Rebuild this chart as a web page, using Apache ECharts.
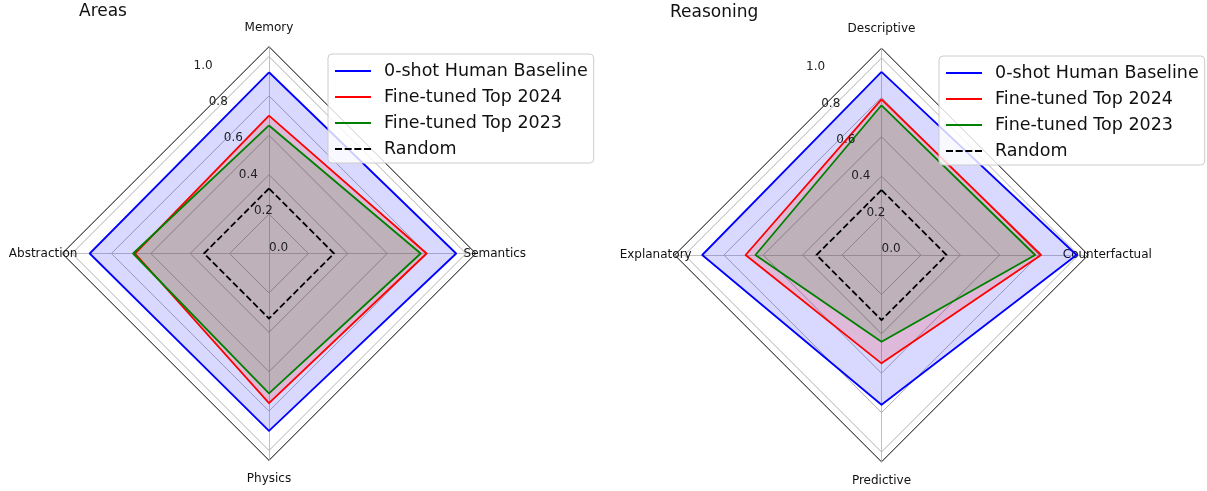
<!DOCTYPE html>
<html><head><meta charset="utf-8">
<script src="https://cdn.jsdelivr.net/npm/echarts@6/dist/echarts.min.js"></script>
<style>html,body{margin:0;padding:0;background:#fff}#c{width:1207px;height:491px}</style>
</head><body><div id="c"></div>
<script>
// ---- data ----
const areaAxes = ['Memory', 'Abstraction', 'Physics', 'Semantics'];
const reasonAxes = ['Descriptive', 'Explanatory', 'Predictive', 'Counterfactual'];
const seriesNames = ['0-shot Human Baseline', 'Fine-tuned Top 2024', 'Fine-tuned Top 2023', 'Random'];

const areaHuman  = [0.92, 0.91, 0.90, 0.95];
const area2024   = [0.70, 0.68, 0.76, 0.80];
const area2023   = [0.65, 0.69, 0.71, 0.77];
const areaRandom = [0.33, 0.33, 0.33, 0.33];

const reasonHuman  = [0.93, 0.91, 0.76, 0.99];
const reason2024   = [0.79, 0.69, 0.55, 0.81];
const reason2023   = [0.76, 0.64, 0.44, 0.78];
const reasonRandom = [0.33, 0.33, 0.33, 0.33];

const radialTicks = [0.0, 0.2, 0.4, 0.6, 0.8, 1.0];
const chartTitles = ['Areas', 'Reasoning'];

// ---- styling ----
const FONT = 'DejaVu Sans';
const rMax = 1.05;
const unit = 197;
const centers = [[269, 253.5], [881.5, 255]];
const colors = ['#0000ff', '#ff0000', '#008000', '#000000'];
const fills = ['rgba(0,0,255,0.15)', 'rgba(255,0,0,0.15)', 'rgba(0,128,0,0.15)', null];

// split rings every 0.05 -> show gray at 0.2 steps, black frame at rMax
const steps = 21;
const ringColors = [];
for (let i = 0; i <= steps; i++) {
  if (i === steps) ringColors.push('#000000');
  else if (i > 0 && i % 4 === 0) ringColors.push('#b0b0b0');
  else ringColors.push('rgba(0,0,0,0)');
}

function radar(idx, axes) {
  return {
    center: centers[idx], radius: unit * rMax, startAngle: 90, shape: 'polygon',
    splitNumber: steps,
    axisName: { color: '#111', fontSize: 12, fontFamily: FONT, align: 'center', verticalAlign: 'middle' },
    axisNameGap: 19,
    axisLine: { lineStyle: { color: '#b0b0b0', width: 0.8 } },
    splitLine: { lineStyle: { color: ringColors, width: 1 } },
    splitArea: { show: false },
    axisTick: { show: false }, axisLabel: { show: false },
    indicator: axes.map(n => ({ name: n, min: 0, max: rMax }))
  };
}

function radarSeries(idx, values) {
  return {
    type: 'radar', radarIndex: idx, symbol: 'none',
    data: values.map((v, k) => {
      const item = {
        name: seriesNames[k], value: v,
        itemStyle: { color: colors[k] },
        lineStyle: { color: colors[k], width: 1.8, type: k === 3 ? [6.5, 3] : 'solid' }
      };
      if (fills[k]) item.areaStyle = { color: fills[k], opacity: 1 };
      return item;
    })
  };
}

const solidIcon = 'path://M0,0h36v2h-36zM44,0h0.01v2h-0.01z';
const dashIcon = 'path://M0,0h7v2h-7zM9.67,0h7v2h-7zM19.33,0h7v2h-7zM29,0h7v2h-7zM44,0h0.01v2h-0.01z';
const legendData = seriesNames.map((n, k) => ({ name: n, icon: k === 3 ? dashIcon : solidIcon }));

function legend(left, top) {
  return {
    data: legendData, left: left, top: top, orient: 'vertical',
    itemWidth: 44, itemHeight: 2, itemGap: 6, padding: [7, 6, 4, 7],
    backgroundColor: 'rgba(255,255,255,0.8)', borderColor: '#cccccc', borderWidth: 1, borderRadius: 4,
    textStyle: { fontSize: 17.5, color: '#111', lineHeight: 20, fontFamily: FONT },
    itemStyle: { borderWidth: 0 }, selectedMode: false, z: 20
  };
}

function radiusAxis(idx) {
  return {
    polarIndex: idx, type: 'value',
    min: radialTicks[0], max: radialTicks[radialTicks.length - 1],
    interval: radialTicks[1] - radialTicks[0],
    axisLine: { show: false }, axisTick: { show: false }, splitLine: { show: false },
    axisLabel: {
      margin: 0, align: 'left', verticalAlign: 'bottom', fontSize: 12, color: '#222', fontFamily: FONT,
      formatter: v => radialTicks[Math.round(v / (radialTicks[1] - radialTicks[0]))].toFixed(1)
    },
    z: 10
  };
}

const option = {
  animation: false,
  textStyle: { fontFamily: FONT },
  title: chartTitles.map((t, i) => ({
    text: t, left: i === 0 ? 79 : 670, top: i === 0 ? 3 : 4, padding: 0,
    textStyle: { fontSize: 17, fontWeight: 'normal', color: '#111', fontFamily: FONT }
  })),
  legend: [legend(328, 54), legend(939, 56)],
  radar: [radar(0, areaAxes), radar(1, reasonAxes)],
  polar: [{ center: centers[0], radius: unit }, { center: centers[1], radius: unit }],
  angleAxis: [
    { polarIndex: 0, type: 'value', min: 0, max: 360, startAngle: 112.5, show: false },
    { polarIndex: 1, type: 'value', min: 0, max: 360, startAngle: 112.5, show: false }
  ],
  radiusAxis: [radiusAxis(0), radiusAxis(1)],
  series: [
    radarSeries(0, [areaHuman, area2024, area2023, areaRandom]),
    radarSeries(1, [reasonHuman, reason2024, reason2023, reasonRandom])
  ]
};

const chart = echarts.init(document.getElementById('c'), null, { renderer: 'canvas' });
chart.setOption(option);
</script>
</body></html>
